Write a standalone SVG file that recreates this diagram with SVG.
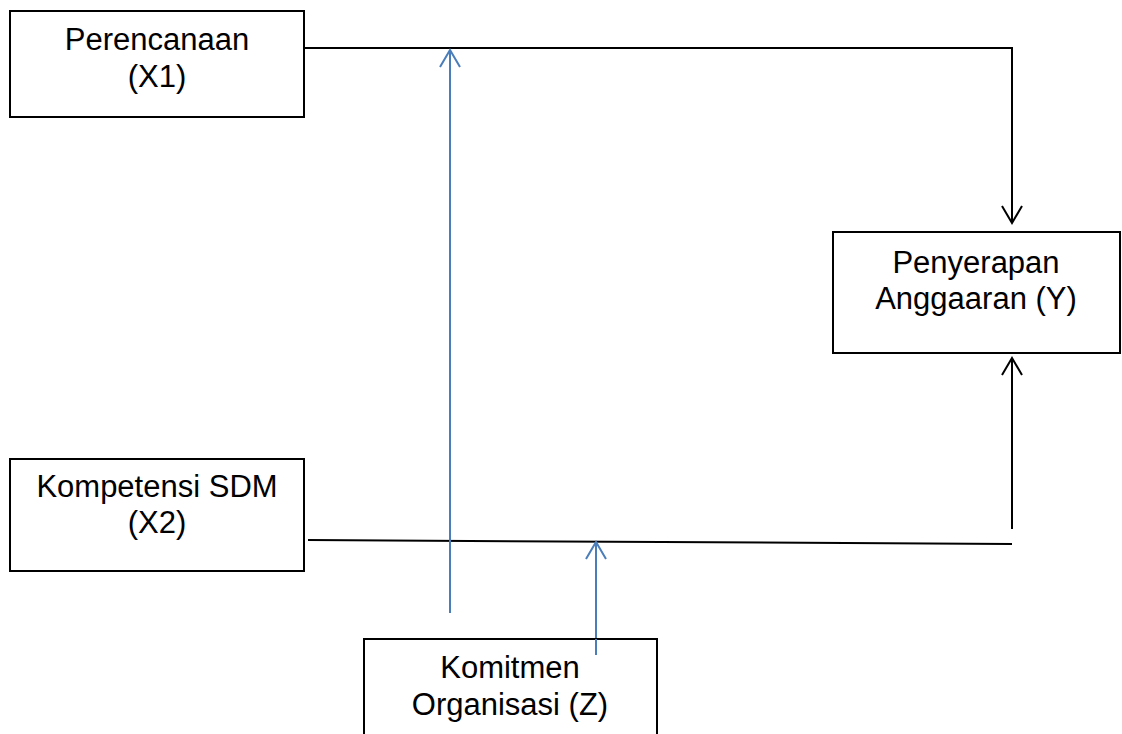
<svg xmlns="http://www.w3.org/2000/svg" width="1122" height="734" viewBox="0 0 1122 734">
<style>
.box{fill:#fff;stroke:#000;stroke-width:2}
.lbl{font-family:"Liberation Sans",Arial,sans-serif;font-size:31px;fill:#000;text-anchor:middle}
.k{stroke:#000;stroke-width:2;fill:none}
.b{stroke:#4A7EBB;stroke-width:2;fill:none}
</style>
<defs>
<marker id="ak" markerWidth="24" markerHeight="24" refX="18" refY="11" orient="auto" markerUnits="userSpaceOnUse">
<path d="M1,1 L18,11 L1,21" fill="none" stroke="#000" stroke-width="2"/>
</marker>
<marker id="ab" markerWidth="24" markerHeight="24" refX="18" refY="11" orient="auto" markerUnits="userSpaceOnUse">
<path d="M1,1 L18,11 L1,21" fill="none" stroke="#4A7EBB" stroke-width="2"/>
</marker>
</defs>
<rect width="1122" height="734" fill="#fff"/>
<g id="connectors">
<polyline class="k" points="301,48 1012,48 1012,223" marker-end="url(#ak)"/>
<line class="k" x1="308" y1="540" x2="1012" y2="544"/>
<line class="k" x1="1012" y1="529" x2="1012" y2="358" marker-end="url(#ak)"/>
<line class="b" x1="450" y1="613" x2="450" y2="50" marker-end="url(#ab)"/>
<line class="b" x1="596" y1="655" x2="596" y2="542" marker-end="url(#ab)"/>
</g>
<g id="x1">
<rect class="box" x="10" y="11" width="294" height="106"/>
<text class="lbl" x="157" y="50">Perencanaan</text>
<text class="lbl" x="157" y="87">(X1)</text>
</g>
<g id="y">
<rect class="box" x="833" y="232" width="287" height="121"/>
<text class="lbl" x="976" y="273">Penyerapan</text>
<text class="lbl" x="976" y="309">Anggaaran (Y)</text>
</g>
<g id="x2">
<rect class="box" x="10" y="459" width="294" height="112"/>
<text class="lbl" x="157" y="497">Kompetensi SDM</text>
<text class="lbl" x="157" y="533">(X2)</text>
</g>
<g id="z">
<rect class="box" x="364" y="639" width="293" height="110"/>
<text class="lbl" x="510" y="678">Komitmen</text>
<text class="lbl" x="510" y="715">Organisasi (Z)</text>
</g>
<line class="b" x1="596" y1="639" x2="596" y2="655"/>
</svg>
